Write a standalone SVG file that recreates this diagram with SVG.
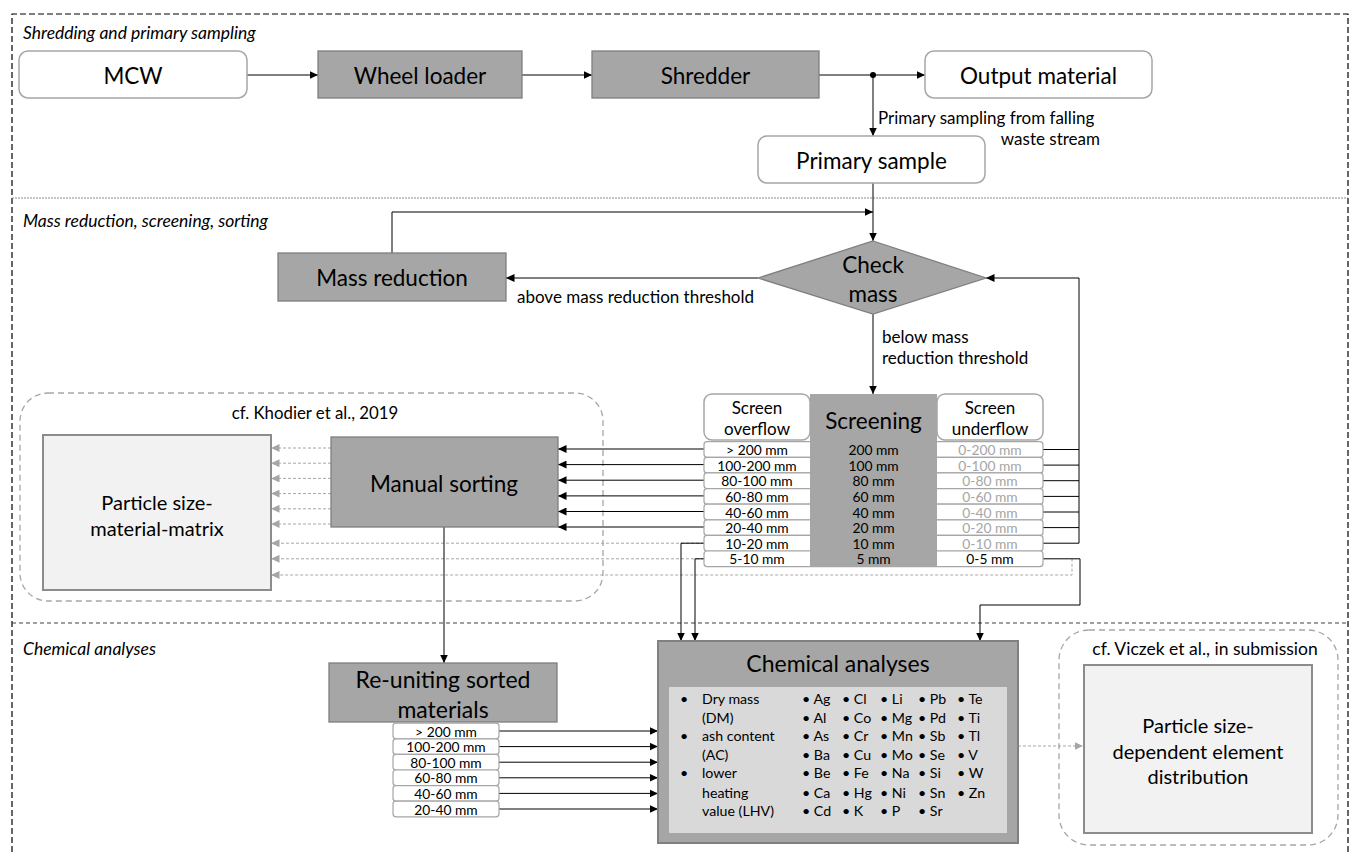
<svg xmlns="http://www.w3.org/2000/svg" width="1351" height="852" viewBox="0 0 1351 852">
  <defs>
    <marker id="ah" markerUnits="userSpaceOnUse" markerWidth="9" markerHeight="8" refX="8.5" refY="4" orient="auto">
      <path d="M0,0 L8.5,4 L0,8 z" fill="#000"/>
    </marker>
    <marker id="ahg" markerUnits="userSpaceOnUse" markerWidth="9" markerHeight="8" refX="8.5" refY="4" orient="auto">
      <path d="M0,0 L8.5,4 L0,8 z" fill="#a6a6a6"/>
    </marker>
    <style>
      text { font-family: Lato, "Liberation Sans", sans-serif; fill: #000; }
      .mid { text-anchor: middle; dominant-baseline: central; }
      .lbl { font-size: 22.5px; }
      .big { font-size: 23px; }
      .sec { font-size: 17.5px; font-style: italic; dominant-baseline: central; }
      .note { font-size: 17px; dominant-baseline: central; }
      .row { font-size: 13.8px; text-anchor: middle; dominant-baseline: central; }
      .faint { fill: #a6a6a6; }
      .lst { font-size: 14.2px; dominant-baseline: central; }
      .grey { fill: #a6a6a6; stroke: #7f7f7f; stroke-width: 1.3; }
      .white { fill: #fff; stroke: #a6a6a6; stroke-width: 1.5; }
      .light { fill: #f2f2f2; stroke: #8c8c8c; stroke-width: 2; }
      .cell { fill: #fff; stroke: #a6a6a6; stroke-width: 1.2; }
      .ref { fill: none; stroke: #a6a6a6; stroke-width: 1.3; stroke-dasharray: 6 4; }
      .c { fill: none; stroke: #000; stroke-width: 1; }
      .cg { fill: none; stroke: #a6a6a6; stroke-width: 1; stroke-dasharray: 3 2; }
    </style>
  </defs>

  <rect width="1351" height="852" fill="#fff"/>

  <!-- frame and section dividers -->
  <g id="frame">
    <path d="M12,852 V14 H1348 V852" fill="none" stroke="#000" stroke-width="1.2" stroke-dasharray="6 3"/>
    <line x1="12" y1="198" x2="1348" y2="198" stroke="#8c8c8c" stroke-width="1" stroke-dasharray="2 1"/>
    <line x1="12" y1="623" x2="1348" y2="623" stroke="#404040" stroke-width="1" stroke-dasharray="4 3"/>
    <text class="sec" x="23" y="32">Shredding and primary sampling</text>
    <text class="sec" x="23" y="220">Mass reduction, screening, sorting</text>
    <text class="sec" x="23" y="648">Chemical analyses</text>
  </g>

  <!-- reference groupings -->
  <g id="khodier">
    <rect class="ref" x="20" y="393" width="583" height="208" rx="28"/>
    <text class="mid" x="315" y="412" font-size="16.8">cf. Khodier et al., 2019</text>
  </g>
  <g id="viczek">
    <rect class="ref" x="1059" y="630" width="279" height="215" rx="30"/>
    <text class="mid" x="1205" y="648" font-size="17.5">cf. Viczek et al., in submission</text>
  </g>

  <!-- connectors -->
  <g id="connectors">
    <path class="c" d="M247,75 H318" marker-end="url(#ah)"/>
    <path class="c" d="M522,75 H592" marker-end="url(#ah)"/>
    <path class="c" d="M819,75 H925" marker-end="url(#ah)"/>
    <circle cx="873" cy="75" r="3" fill="#000"/>
    <path class="c" d="M873,75 V136" marker-end="url(#ah)"/>
    <text class="note" x="878" y="117">Primary sampling from falling</text>
    <text class="note" x="1100" y="138" text-anchor="end">waste stream</text>

    <path class="c" d="M873,183 V241" marker-end="url(#ah)"/>
    <path class="c" d="M392,253 V212 H873" marker-end="url(#ah)"/>
    <path class="c" d="M758,278 H506" marker-end="url(#ah)"/>
    <text class="note" x="517" y="296">above mass reduction threshold</text>
    <path class="c" d="M873,314 V394" marker-end="url(#ah)"/>
    <text class="note" x="882" y="336">below mass</text>
    <text class="note" x="882" y="357">reduction threshold</text>

    <!-- screen underflow back to mass check -->
    <path class="c" d="M1043,449.5 H1079 M1043,465.1 H1079 M1043,480.7 H1079 M1043,496.4 H1079 M1043,512 H1079 M1043,527.6 H1079 M1043,543.2 H1079"/>
    <path class="c" d="M1079,543.2 V278 H986" marker-end="url(#ah)"/>

    <!-- screen overflow to manual sorting -->
    <path class="c" d="M704,449 H558" marker-end="url(#ah)"/>
    <path class="c" d="M704,464.6 H558" marker-end="url(#ah)"/>
    <path class="c" d="M704,480.2 H558" marker-end="url(#ah)"/>
    <path class="c" d="M704,495.9 H558" marker-end="url(#ah)"/>
    <path class="c" d="M704,511.5 H558" marker-end="url(#ah)"/>
    <path class="c" d="M704,527 H558" marker-end="url(#ah)"/>

    <!-- sorted fractions into the particle size-material matrix -->
    <path class="cg" d="M331,448 H271" marker-end="url(#ahg)"/>
    <path class="cg" d="M331,463.2 H271" marker-end="url(#ahg)"/>
    <path class="cg" d="M331,478.4 H271" marker-end="url(#ahg)"/>
    <path class="cg" d="M331,493.6 H271" marker-end="url(#ahg)"/>
    <path class="cg" d="M331,508.8 H271" marker-end="url(#ahg)"/>
    <path class="cg" d="M331,524 H271" marker-end="url(#ahg)"/>
    <path class="cg" d="M704,543.2 H271" marker-end="url(#ahg)"/>
    <path class="cg" d="M704,558.8 H271" marker-end="url(#ahg)"/>
    <path class="cg" d="M1072,558.8 V575 H271" marker-end="url(#ahg)"/>

    <!-- fine fractions straight to chemical analyses -->
    <path class="c" d="M704,543.2 H681 V641" marker-end="url(#ah)"/>
    <path class="c" d="M704,558.8 H695 V641" marker-end="url(#ah)"/>
    <path class="c" d="M1043,558.8 H1080 V605 H980 V641" marker-end="url(#ah)"/>

    <path class="c" d="M444,527 V663" marker-end="url(#ah)"/>

    <path class="c" d="M499,731 H658" marker-end="url(#ah)"/>
    <path class="c" d="M499,746.6 H658" marker-end="url(#ah)"/>
    <path class="c" d="M499,762.2 H658" marker-end="url(#ah)"/>
    <path class="c" d="M499,777.8 H658" marker-end="url(#ah)"/>
    <path class="c" d="M499,793.4 H658" marker-end="url(#ah)"/>
    <path class="c" d="M499,809 H658" marker-end="url(#ah)"/>

    <path class="cg" d="M1018,746 H1083" marker-end="url(#ahg)"/>
  </g>

  <!-- nodes -->
  <g id="mcw">
    <rect class="white" x="19" y="51" width="228" height="47" rx="9"/>
    <text class="mid lbl" x="133" y="75">MCW</text>
  </g>
  <g id="wheel-loader">
    <rect class="grey" x="318" y="51" width="204" height="47"/>
    <text class="mid lbl" x="420" y="75">Wheel loader</text>
  </g>
  <g id="shredder">
    <rect class="grey" x="592" y="51" width="227" height="47"/>
    <text class="mid lbl" x="705.5" y="75">Shredder</text>
  </g>
  <g id="output-material">
    <rect class="white" x="925" y="51" width="227" height="47" rx="9"/>
    <text class="mid lbl" x="1038.5" y="75">Output material</text>
  </g>
  <g id="primary-sample">
    <rect class="white" x="758" y="136" width="227" height="47" rx="9"/>
    <text class="mid lbl" x="871.5" y="160">Primary sample</text>
  </g>
  <g id="mass-reduction">
    <rect class="grey" x="278" y="253" width="228" height="48"/>
    <text class="mid lbl" x="392" y="277">Mass reduction</text>
  </g>
  <g id="check-mass">
    <polygon class="grey" points="873,241 986,278 873,314 758,278"/>
    <text class="mid lbl" x="873" y="264">Check</text>
    <text class="mid lbl" x="873" y="293">mass</text>
  </g>

  <g id="screening">
    <rect class="white" x="704" y="394" width="106" height="46" rx="8"/>
    <rect class="white" x="937" y="394" width="106" height="46" rx="8"/>
    <text class="mid" x="757" y="407" font-size="17">Screen</text>
    <text class="mid" x="757" y="428" font-size="17">overflow</text>
    <text class="mid" x="990" y="407" font-size="17">Screen</text>
    <text class="mid" x="990" y="428" font-size="17">underflow</text>
    <rect class="cell" x="704" y="441.7" width="339" height="15.6" rx="3"/>
    <rect class="cell" x="704" y="457.3" width="339" height="15.6" rx="3"/>
    <rect class="cell" x="704" y="472.9" width="339" height="15.6" rx="3"/>
    <rect class="cell" x="704" y="488.6" width="339" height="15.6" rx="3"/>
    <rect class="cell" x="704" y="504.2" width="339" height="15.6" rx="3"/>
    <rect class="cell" x="704" y="519.8" width="339" height="15.6" rx="3"/>
    <rect class="cell" x="704" y="535.4" width="339" height="15.6" rx="3"/>
    <rect class="cell" x="704" y="551" width="339" height="15.6" rx="3"/>
    <rect x="810" y="394" width="127" height="173" fill="#a6a6a6"/>
    <text class="mid lbl" x="873.5" y="420">Screening</text>
    <g class="row-l">
      <text class="row" x="757" y="449.5">&gt; 200 mm</text>
      <text class="row" x="757" y="465.1">100-200 mm</text>
      <text class="row" x="757" y="480.7">80-100 mm</text>
      <text class="row" x="757" y="496.4">60-80 mm</text>
      <text class="row" x="757" y="512">40-60 mm</text>
      <text class="row" x="757" y="527.6">20-40 mm</text>
      <text class="row" x="757" y="543.2">10-20 mm</text>
      <text class="row" x="757" y="558.8">5-10 mm</text>
    </g>
    <g class="row-m">
      <text class="row" x="873.5" y="449.5">200 mm</text>
      <text class="row" x="873.5" y="465.1">100 mm</text>
      <text class="row" x="873.5" y="480.7">80 mm</text>
      <text class="row" x="873.5" y="496.4">60 mm</text>
      <text class="row" x="873.5" y="512">40 mm</text>
      <text class="row" x="873.5" y="527.6">20 mm</text>
      <text class="row" x="873.5" y="543.2">10 mm</text>
      <text class="row" x="873.5" y="558.8">5 mm</text>
    </g>
    <g class="row-r">
      <text class="row faint" x="990" y="449.5">0-200 mm</text>
      <text class="row faint" x="990" y="465.1">0-100 mm</text>
      <text class="row faint" x="990" y="480.7">0-80 mm</text>
      <text class="row faint" x="990" y="496.4">0-60 mm</text>
      <text class="row faint" x="990" y="512">0-40 mm</text>
      <text class="row faint" x="990" y="527.6">0-20 mm</text>
      <text class="row faint" x="990" y="543.2">0-10 mm</text>
      <text class="row" x="990" y="558.8">0-5 mm</text>
    </g>
  </g>

  <g id="manual-sorting">
    <rect class="grey" x="331" y="437" width="227" height="90"/>
    <text class="mid lbl" x="444" y="483">Manual sorting</text>
  </g>
  <g id="particle-size-material-matrix">
    <rect class="light" x="43" y="435" width="228" height="155"/>
    <text class="mid" x="157" y="502" font-size="20">Particle size-</text>
    <text class="mid" x="157" y="528" font-size="20">material-matrix</text>
  </g>

  <g id="re-uniting">
    <rect class="grey" x="329" y="663" width="228" height="59"/>
    <text class="mid big" x="443" y="679">Re-uniting sorted</text>
    <text class="mid big" x="443" y="709">materials</text>
    <rect class="cell" x="393" y="723.2" width="106" height="15.6" rx="3"/>
    <rect class="cell" x="393" y="738.8" width="106" height="15.6" rx="3"/>
    <rect class="cell" x="393" y="754.4" width="106" height="15.6" rx="3"/>
    <rect class="cell" x="393" y="770" width="106" height="15.6" rx="3"/>
    <rect class="cell" x="393" y="785.6" width="106" height="15.6" rx="3"/>
    <rect class="cell" x="393" y="801.2" width="106" height="15.6" rx="3"/>
    <text class="row" x="446" y="731">&gt; 200 mm</text>
    <text class="row" x="446" y="746.6">100-200 mm</text>
    <text class="row" x="446" y="762.2">80-100 mm</text>
    <text class="row" x="446" y="777.8">60-80 mm</text>
    <text class="row" x="446" y="793.4">40-60 mm</text>
    <text class="row" x="446" y="809">20-40 mm</text>
  </g>

  <g id="chemical-analyses">
    <rect x="658" y="641" width="360" height="202" fill="#a6a6a6" stroke="#808080" stroke-width="2"/>
    <rect x="669" y="687" width="338" height="146" fill="#d9d9d9"/>
    <text class="mid big" x="838" y="663">Chemical analyses</text>
    <g class="lst-params">
      <text class="lst" x="680" y="698">•</text>
      <text class="lst" x="702" y="698">Dry mass</text>
      <text class="lst" x="702" y="717">(DM)</text>
      <text class="lst" x="680" y="735">•</text>
      <text class="lst" x="702" y="735">ash content</text>
      <text class="lst" x="702" y="754">(AC)</text>
      <text class="lst" x="680" y="772">•</text>
      <text class="lst" x="702" y="772">lower</text>
      <text class="lst" x="702" y="792">heating</text>
      <text class="lst" x="702" y="810">value (LHV)</text>
    </g>
    <g class="lst-elements">
      <text class="lst" x="802" y="698">• Ag</text>
      <text class="lst" x="802" y="717">• Al</text>
      <text class="lst" x="802" y="735">• As</text>
      <text class="lst" x="802" y="754">• Ba</text>
      <text class="lst" x="802" y="772">• Be</text>
      <text class="lst" x="802" y="792">• Ca</text>
      <text class="lst" x="802" y="810">• Cd</text>
      <text class="lst" x="842" y="698">• Cl</text>
      <text class="lst" x="842" y="717">• Co</text>
      <text class="lst" x="842" y="735">• Cr</text>
      <text class="lst" x="842" y="754">• Cu</text>
      <text class="lst" x="842" y="772">• Fe</text>
      <text class="lst" x="842" y="792">• Hg</text>
      <text class="lst" x="842" y="810">• K</text>
      <text class="lst" x="880" y="698">• Li</text>
      <text class="lst" x="880" y="717">• Mg</text>
      <text class="lst" x="880" y="735">• Mn</text>
      <text class="lst" x="880" y="754">• Mo</text>
      <text class="lst" x="880" y="772">• Na</text>
      <text class="lst" x="880" y="792">• Ni</text>
      <text class="lst" x="880" y="810">• P</text>
      <text class="lst" x="918" y="698">• Pb</text>
      <text class="lst" x="918" y="717">• Pd</text>
      <text class="lst" x="918" y="735">• Sb</text>
      <text class="lst" x="918" y="754">• Se</text>
      <text class="lst" x="918" y="772">• Si</text>
      <text class="lst" x="918" y="792">• Sn</text>
      <text class="lst" x="918" y="810">• Sr</text>
      <text class="lst" x="957" y="698">• Te</text>
      <text class="lst" x="957" y="717">• Ti</text>
      <text class="lst" x="957" y="735">• Tl</text>
      <text class="lst" x="957" y="754">• V</text>
      <text class="lst" x="957" y="772">• W</text>
      <text class="lst" x="957" y="792">• Zn</text>
    </g>
  </g>

  <g id="element-distribution">
    <rect class="light" x="1084" y="665" width="228" height="168"/>
    <text class="mid" x="1198" y="725" font-size="20">Particle size-</text>
    <text class="mid" x="1198" y="751" font-size="20">dependent element</text>
    <text class="mid" x="1198" y="776" font-size="20">distribution</text>
  </g>
</svg>
